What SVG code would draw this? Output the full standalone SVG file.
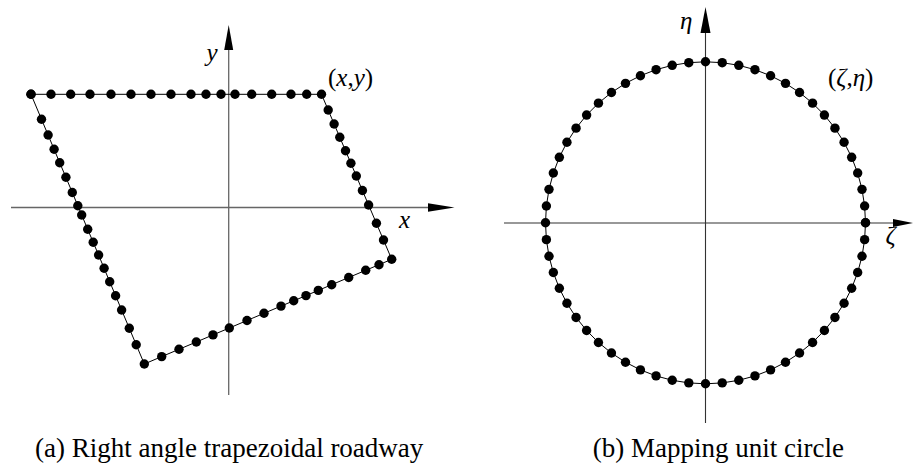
<svg xmlns="http://www.w3.org/2000/svg" width="913" height="470" viewBox="0 0 913 470">
<style>
.ax{stroke:#666;stroke-width:1.3;fill:none}
.ax2{stroke:#333;stroke-width:1.1;fill:none}
.ah{fill:#000;stroke:none}
.bd{fill:none;stroke:#000;stroke-width:1;marker-start:url(#dot);marker-mid:url(#dot);marker-end:url(#dot)}
.lb{font-family:"Liberation Serif","Times New Roman",serif;font-size:25px;fill:#000}
.it{font-style:italic}
.cap{font-family:"Liberation Serif","Times New Roman",serif;font-size:27px;fill:#000}
</style>
<defs>
<marker id="dot" markerUnits="userSpaceOnUse" markerWidth="12" markerHeight="12" refX="6" refY="6" viewBox="0 0 12 12" overflow="visible">
<circle cx="6" cy="6" r="4.7" fill="#000"/>
</marker>
</defs>
<g id="panel-a">
<g id="axes-a">
<line class="ax" x1="11" y1="207.5" x2="428" y2="207.5"/>
<polygon class="ah" points="428,203.3 454.5,207.5 428,211.7"/>
<line class="ax" x1="228.7" y1="50" x2="228.7" y2="395"/>
<polygon class="ah" points="224.2,50 228.7,25 233.2,50"/>
</g>
<g id="trapezoid">
<polygon class="bd" points="31,94.3 51,94.3 70.7,94.3 90,94.3 111,94.3 131,94.3 151,94.3 171,94.3 191,94.3 206,94.3 221,94.3 235,94.3 251.7,94.3 271.7,94.3 291,94.3 306.7,94.3 321.5,94.3 328.2,110 334.1,124 339.8,137.3 345.5,150.7 350.9,163.3 356.3,176 362.4,190.5 368.6,205 376.4,223.3 383.5,240 391.7,259.3 379,264.7 365.7,270.3 348.7,277.5 331.7,284.7 318.3,290.4 306,295.6 293.7,300.8 281,306.1 264,313.3 247,320.5 229.3,328 213,334.9 196.3,342 179,349.3 161.7,356.6 144.3,364 136.2,344.7 129.3,328.3 121.6,310 115.6,295.7 109.7,281.7 104.1,268.3 98.6,255 93.2,242.3 87.7,229.3 81.7,215 77.8,205.7 72.3,192.5 65.9,177.3 59.7,162.7 54.1,149.3 48.1,135 41.5,119.3"/>
</g>
<g id="labels-a">
<text class="lb it" x="206.5" y="60.5">y</text>
<text class="lb" x="328" y="86">(<tspan class="it">x</tspan>,<tspan class="it">y</tspan>)</text>
<text class="lb it" x="399" y="227.5">x</text>
<text class="cap" x="35" y="457">(a) Right angle trapezoidal roadway</text>
</g>
</g>
<g id="panel-b">
<g id="axes-b">
<line class="ax2" x1="504" y1="223" x2="893" y2="223"/>
<polygon class="ah" points="893,219 913,223 893,227"/>
<line class="ax2" x1="705.5" y1="33" x2="705.5" y2="423"/>
<polygon class="ah" points="700.5,33 705.5,7 710.5,33"/>
</g>
<g id="circle">
<polygon class="bd" points="865.5,222.8 864.62,205.97 862,189.33 857.67,173.05 851.67,157.31 844.06,142.3 834.94,128.17 824.4,115.07 812.56,103.15 799.55,92.55 785.5,83.37 770.58,75.72 754.94,69.68 738.77,65.32 722.22,62.68 705.5,61.8 688.78,62.68 672.23,65.32 656.06,69.68 640.42,75.72 625.5,83.37 611.45,92.55 598.44,103.15 586.6,115.07 576.06,128.17 566.94,142.3 559.33,157.31 553.33,173.05 549,189.33 546.38,205.97 545.5,222.8 546.38,239.63 549,256.27 553.33,272.55 559.33,288.29 566.94,303.3 576.06,317.43 586.6,330.53 598.44,342.45 611.45,353.05 625.5,362.23 640.42,369.88 656.06,375.92 672.23,380.28 688.78,382.92 705.5,383.8 722.22,382.92 738.77,380.28 754.94,375.92 770.58,369.88 785.5,362.23 799.55,353.05 812.56,342.45 824.4,330.53 834.94,317.43 844.06,303.3 851.67,288.29 857.67,272.55 862,256.27 864.62,239.63"/>
</g>
<g id="labels-b">
<text class="lb it" x="680" y="29">η</text>
<text class="lb" x="828" y="86">(<tspan class="it">ζ</tspan>,<tspan class="it">η</tspan>)</text>
<text class="lb it" x="885.5" y="244">ζ</text>
<text class="cap" x="592.7" y="457">(b) Mapping unit circle</text>
</g>
</g>
</svg>
